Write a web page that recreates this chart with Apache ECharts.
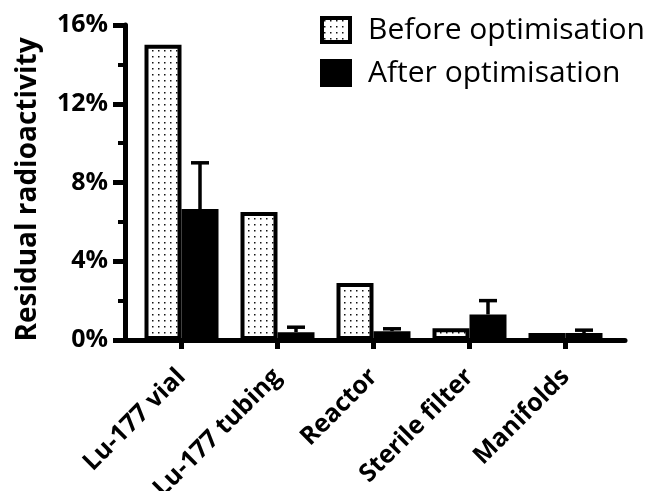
<!DOCTYPE html>
<html>
<head>
<meta charset="utf-8">
<script src="https://cdn.jsdelivr.net/npm/echarts@6/dist/echarts.min.js"></script>
<style>
  html, body { margin: 0; padding: 0; background: #fff; }
  #chart { width: 655px; height: 491px; }
</style>
</head>
<body>
<div id="chart"></div>
<script>
// ---- data ----
const categories = ['Lu-177 vial', 'Lu-177 tubing', 'Reactor', 'Sterile filter', 'Manifolds'];
const beforeValues = [15.0, 6.5, 2.9, 0.6, 0.35];
const afterValues = [6.65, 0.4, 0.45, 1.3, 0.35];
const afterErrors = [2.35, 0.25, 0.12, 0.7, 0.15];
const yTicks = [0, 4, 8, 12, 16];
const seriesNames = ['Before optimisation', 'After optimisation'];

// ---- style ----
const FONT = '"Open Sans"';
const BAR_W = 37;

// dotted pattern
const pat = document.createElement('canvas');
pat.width = 6; pat.height = 6;
const pctx = pat.getContext('2d');
pctx.fillStyle = '#fff';
pctx.fillRect(0, 0, 6, 6);
pctx.fillStyle = '#111';
pctx.fillRect(2, 2, 1.5, 1.5);

const errData = afterValues.map((v, i) => [i, v, v + afterErrors[i]]);

const chart = echarts.init(document.getElementById('chart'), null, { renderer: 'canvas' });
chart.setOption({
  backgroundColor: '#fff',
  animation: false,
  legend: {
    data: seriesNames.map(n => ({ name: n, itemStyle: { borderColor: '#000', borderWidth: 4 } })),
    orient: 'vertical',
    left: 315,
    top: 10,
    itemWidth: 28,
    itemHeight: 24,
    itemGap: 13,
    icon: 'rect',
    textStyle: { fontFamily: FONT, fontSize: 30, color: '#000', padding: [4, 0, 0, 13] }
  },
  grid: [
    { left: 125, right: 30, top: 25, bottom: 151, containLabel: false, outerBoundsMode: 'none' },
    { left: 133.5, right: 41.5, top: 25, bottom: 151, containLabel: false, outerBoundsMode: 'none' }
  ],
  xAxis: [
    {
      gridIndex: 0, type: 'value', min: 0, max: 1,
      axisLine: { show: true, lineStyle: { color: '#000', width: 5 } },
      axisTick: { show: false }, axisLabel: { show: false }, splitLine: { show: false }
    },
    {
      gridIndex: 1, type: 'category', data: categories,
      axisLine: { show: false },
      axisTick: { show: true, alignWithLabel: true, length: 9, lineStyle: { color: '#000', width: 5 } },
      axisLabel: {
        interval: 0, rotate: 45, margin: 33,
        fontFamily: FONT, fontWeight: 'bold', fontSize: 25, color: '#000'
      },
      splitLine: { show: false }
    }
  ],
  yAxis: [
    {
      gridIndex: 0, type: 'value', min: 0, max: 16, interval: 4,
      name: 'Residual radioactivity',
      nameLocation: 'middle', nameGap: 83,
      nameTextStyle: { fontFamily: FONT, fontWeight: 'bold', fontSize: 28, color: '#000', padding: [0, 14, 0, 0] },
      axisLine: { show: true, lineStyle: { color: '#000', width: 5 } },
      axisTick: { show: true, length: 12, lineStyle: { color: '#000', width: 5 } },
      minorTick: { show: true, splitNumber: 2, length: 7, lineStyle: { color: '#000', width: 4 } },
      axisLabel: {
        margin: 17, fontFamily: FONT, fontWeight: 'bold', fontSize: 25, color: '#000',
        formatter: v => yTicks.includes(v) ? v + '%' : ''
      },
      splitLine: { show: false }
    },
    {
      gridIndex: 1, type: 'value', min: 0, max: 16, interval: 4,
      show: false
    }
  ],
  series: [
    {
      name: seriesNames[0], type: 'bar', xAxisIndex: 1, yAxisIndex: 1,
      data: beforeValues, barWidth: BAR_W, barGap: '0%',
      itemStyle: {
        color: { image: pat, repeat: 'repeat' },
        borderColor: '#000', borderWidth: 4
      },
      z: 2
    },
    {
      name: seriesNames[1], type: 'bar', xAxisIndex: 1, yAxisIndex: 1,
      data: afterValues, barWidth: BAR_W, barGap: '0%',
      itemStyle: { color: '#000' },
      z: 2
    },
    {
      type: 'custom', xAxisIndex: 1, yAxisIndex: 1, data: errData, z: 3,
      renderItem: function (params, api) {
        const idx = api.value(0);
        const base = api.coord([idx, api.value(1)]);
        const top = api.coord([idx, api.value(2)]);
        const cx = base[0] + BAR_W / 2;
        const st = { stroke: '#000', lineWidth: 3.5 };
        return {
          type: 'group',
          children: [
            { type: 'line', shape: { x1: cx, y1: base[1], x2: cx, y2: top[1] }, style: st },
            { type: 'line', shape: { x1: cx - 9, y1: top[1], x2: cx + 9, y2: top[1] }, style: st }
          ]
        };
      }
    }
  ]
});
</script>
</body>
</html>
